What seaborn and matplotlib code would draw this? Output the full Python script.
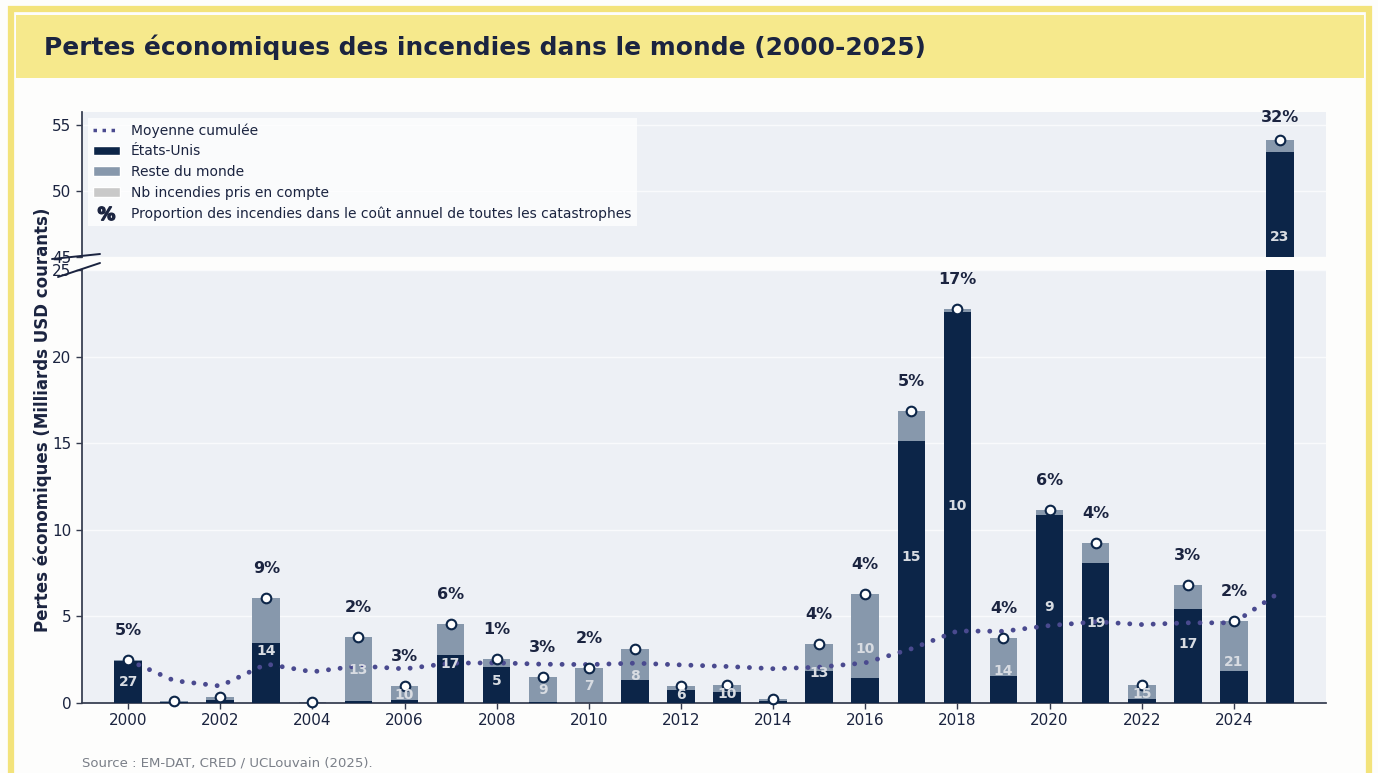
import pandas as pd
import matplotlib.pyplot as plt
import seaborn as sns
from matplotlib.patches import Patch, Rectangle
from matplotlib.lines import Line2D

# values (billions USD)
years = list(range(2000, 2026))
total = [2.48, 0.10, 0.35, 6.06, 0.03, 3.81, 0.98, 4.56, 2.54, 1.50,
         2.02, 3.12, 0.98, 1.04, 0.23, 3.41, 6.29, 16.86, 22.75, 3.75,
         11.14, 9.24, 1.04, 6.81, 4.73, 53.86]
usa = [2.42, 0.03, 0.18, 3.46, 0.00, 0.10, 0.17, 2.77, 2.08, 0.07,
       0.00, 1.33, 0.75, 0.64, 0.10, 1.85, 1.44, 15.13, 22.58, 1.56,
       10.85, 8.08, 0.23, 5.43, 1.85, 52.95]
nb_fires = [27, None, None, 14, None, 13, 10, 17, 5, 9,
            7, 8, 6, 10, None, 13, 10, 15, 10, 14,
            9, 19, 15, 17, 21, 23]
pct = [5, None, None, 9, None, 2, 3, 6, 1, 3,
       2, None, None, None, None, 4, 4, 5, 17, 4,
       6, 4, None, 3, 2, 32]
cum_mean = [2.48, 1.29, 0.98, 2.25, 1.80, 2.14, 1.97, 2.30, 2.32, 2.24,
            2.22, 2.30, 2.20, 2.11, 1.98, 2.07, 2.32, 3.13, 4.16, 4.14,
            4.47, 4.69, 4.53, 4.63, 4.63, 6.40]

NAVY = '#0c2548'
GREY_BLUE = '#8798ac'
LIGHT = '#c9c9c9'
LINE = '#4a4a8f'
TEXT = '#1b2440'
BG = '#edf0f5'
YELLOW = '#f3e37b'
BAND = '#f6e98c'

sns.set_theme(style='white')
plt.rcParams['font.family'] = ['DejaVu Sans']

df = pd.DataFrame({'year': years, 'total': total, 'usa': usa})

W, H = 1378, 773
fig = plt.figure(figsize=(W / 100, H / 100), dpi=100)
fig.patch.set_facecolor('#fdfdfc')

# yellow frame and title band
fig.patches.append(Rectangle((10.5 / W, -0.05), 1358 / W, 1.05 - 9 / H,
                             transform=fig.transFigure, fill=False,
                             edgecolor=YELLOW, lw=4.5, zorder=0))
fig.patches.append(Rectangle((16 / W, 1 - 78 / H), 1348 / W, 63 / H,
                             transform=fig.transFigure, facecolor=BAND,
                             edgecolor='none', zorder=0))
fig.text(44 / W, 1 - 47 / H, 'Pertes économiques des incendies dans le monde (2000-2025)',
         fontsize=17.9, fontweight='bold', color=TEXT, va='center', ha='left')

ax_top = fig.add_axes([82 / W, 1 - 257 / H, 1244 / W, 145 / H])
ax_bot = fig.add_axes([82 / W, 1 - 703 / H, 1244 / W, 433 / H])

for ax in (ax_top, ax_bot):
    ax.set_facecolor(BG)
    sns.barplot(data=df, x='year', y='total', native_scale=True, width=0.6,
                color=GREY_BLUE, saturation=1, errorbar=None, linewidth=0,
                ax=ax, zorder=2)
    sns.barplot(data=df, x='year', y='usa', native_scale=True, width=0.6,
                color=NAVY, saturation=1, errorbar=None, linewidth=0,
                ax=ax, zorder=3)
    ax.set_xlim(1999, 2026)
    ax.set_xlabel('')
    ax.set_ylabel('')
    ax.yaxis.grid(True, color='white', lw=1, alpha=0.7, zorder=0)
    ax.set_axisbelow(True)
    for s in ('top', 'right'):
        ax.spines[s].set_visible(False)
    ax.spines['left'].set_color('#333a4d')
    ax.tick_params(axis='both', labelsize=11, colors='#333a4d', labelcolor=TEXT,
                   length=4, width=1, left=True, bottom=True)

ax_top.set_ylim(45, 56)
ax_top.set_yticks([45, 50, 55])
ax_top.set_xticks([])
ax_top.spines['bottom'].set_visible(False)

ax_bot.set_ylim(0, 25)
ax_bot.set_yticks(range(0, 26, 5))
ax_bot.set_xticks(range(2000, 2025, 2))
ax_bot.spines['bottom'].set_color('#333a4d')

# total markers, each in the panel whose range holds it
for ax in (ax_top, ax_bot):
    lo, hi = ax.get_ylim()
    sub = df[(df['total'] >= lo) & (df['total'] <= hi)]
    sns.scatterplot(data=sub, x='year', y='total', ax=ax, s=48, color='white',
                    edgecolor=NAVY, linewidth=1.5, zorder=6, clip_on=False)
    ax.set_xlabel('')
    ax.set_ylabel('')

sns.lineplot(x=years, y=cum_mean, ax=ax_bot, color=LINE, lw=3.5, zorder=5)
ln = ax_bot.lines[-1]
ln.set_linestyle((0, (0.01, 2.4)))
ln.set_dash_capstyle('round')

# labels: number of fires and share of all disasters
for yr, tot, n, p in zip(years, total, nb_fires, pct):
    if n is not None:
        if tot / 2 <= 25:
            ax_bot.text(yr, tot / 2, str(n), ha='center', va='center', fontsize=10,
                        fontweight='bold', color='#d8dce2', zorder=7)
        else:
            ax_top.text(yr, 46.5, str(n), ha='center', va='center', fontsize=10,
                        fontweight='bold', color='#d8dce2', zorder=7)
    if p is not None:
        target = ax_bot if tot <= 25 else ax_top
        target.text(yr, tot + 1.7, f'{p}%', ha='center', va='center', fontsize=11.5,
                    fontweight='bold', color=TEXT, zorder=7, clip_on=False)

# axis break marks
fig.add_artist(Line2D([52 / W, 100 / W], [1 - 259 / H, 1 - 254 / H],
                      color=TEXT, lw=1.4, transform=fig.transFigure))
fig.add_artist(Line2D([58 / W, 100 / W], [1 - 277 / H, 1 - 263 / H],
                      color=TEXT, lw=1.4, transform=fig.transFigure))

handles = [
    Line2D([], [], color=LINE, lw=2.5, linestyle=(0, (1, 1.6))),
    Patch(facecolor=NAVY),
    Patch(facecolor=GREY_BLUE),
    Patch(facecolor=LIGHT),
    Line2D([], [], ls='none', marker=r'$\mathbf{\%}$', markersize=12, color=TEXT),
]
labels = ['Moyenne cumulée', 'États-Unis', 'Reste du monde',
          'Nb incendies pris en compte',
          'Proportion des incendies dans le coût annuel de toutes les catastrophes']
leg = ax_top.legend(handles, labels, loc='upper left', fontsize=10, frameon=True,
                    facecolor='white', framealpha=0.75, edgecolor='none',
                    borderaxespad=0.4, labelspacing=0.48, handlelength=1.9,
                    handletextpad=0.8, fancybox=False)
for t in leg.get_texts():
    t.set_color(TEXT)

fig.text(43 / W, 1 - 420 / H, 'Pertes économiques (Milliards USD courants)',
         rotation=90, fontsize=12, fontweight='bold', color=TEXT,
         ha='center', va='center')
fig.text(82 / W, 1 - 763 / H, 'Source : EM-DAT, CRED / UCLouvain (2025).',
         fontsize=9.5, color='#7a7f88', ha='left', va='center')

fig.savefig('out.png', dpi=100)
